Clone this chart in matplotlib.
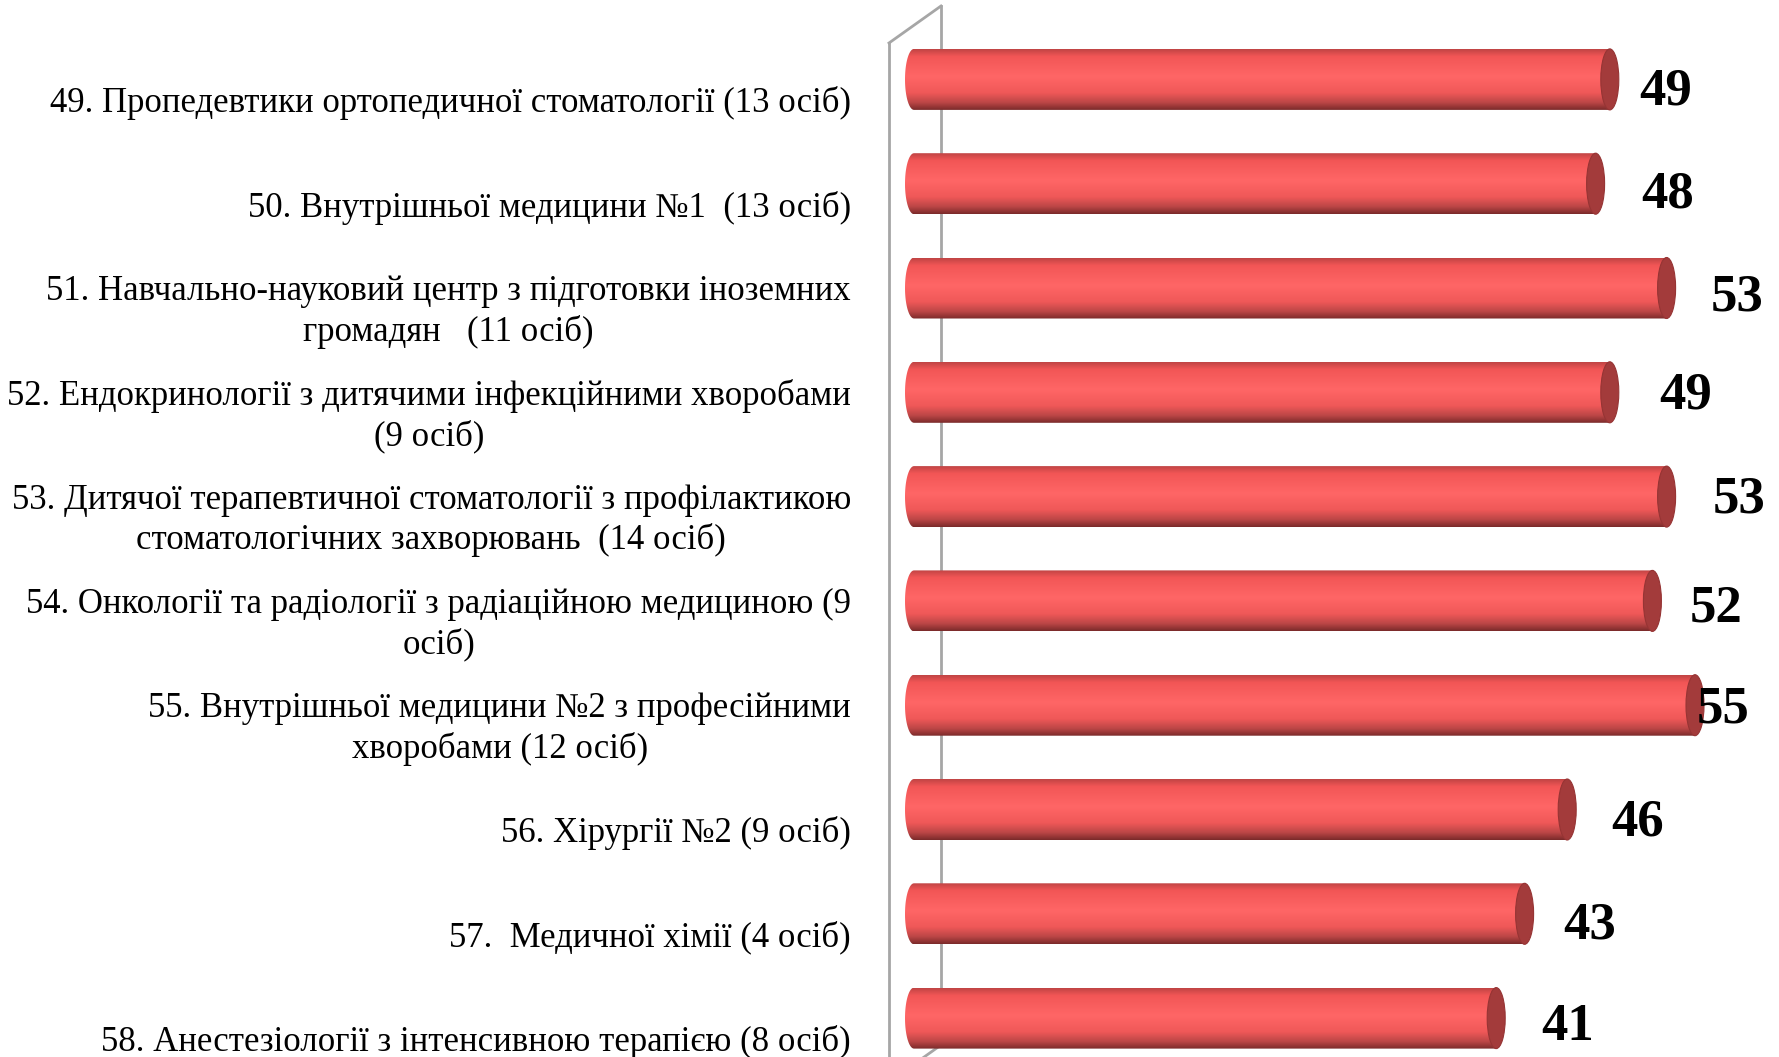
import matplotlib
matplotlib.use("Agg")
import matplotlib.pyplot as plt
import numpy as np
from matplotlib.path import Path
from matplotlib.patches import PathPatch, Ellipse
from matplotlib.colors import LinearSegmentedColormap

plt.rcParams['font.family'] = ['Liberation Serif', 'DejaVu Serif']

categories = [
    "49. Пропедевтики ортопедичної стоматології (13 осіб)",
    "50. Внутрішньої медицини №1  (13 осіб)",
    "51. Навчально-науковий центр з підготовки іноземних\nгромадян   (11 осіб)",
    "52. Ендокринології з дитячими інфекційними хворобами\n(9 осіб)",
    "53. Дитячої терапевтичної стоматології з профілактикою\nстоматологічних захворювань  (14 осіб)",
    "54. Онкології та радіології з радіаційною медициною (9\nосіб)",
    "55. Внутрішньої медицини №2 з професійними\nхворобами (12 осіб)",
    "56. Хірургії №2 (9 осіб)",
    "57.  Медичної хімії (4 осіб)",
    "58. Анестезіології з інтенсивною терапією (8 осіб)",
]
values = [49, 48, 53, 49, 53, 52, 55, 46, 43, 41]

# manual label nudges (pixels), as placed in the original
lbl_dx = [20, 37, 35, 40, 37, 28, -7, 35, 30, 36]
lbl_dy = [-12, -11, -9, -3, -3, -8, -4, -13, -12, -9]

W, H = 1779, 1057
px_per_unit = 14.2
x0_px = 914
row_px = 104.3
top_px = 79.4

fig = plt.figure(figsize=(W / 100, H / 100), dpi=100)
ax = fig.add_axes([0, 0, 1, 1])
ax.set_xlim(-x0_px / px_per_unit, (W - x0_px) / px_per_unit)
ylo = -top_px / row_px
ax.set_ylim(ylo + H / row_px, ylo)
ax.axis('off')

def px2x(p):
    return (p - x0_px) / px_per_unit

def px2y(p):
    return ylo + p / row_px

# 3D wall outline
wall = '#a6a6a6'
xb, xf = px2x(941), px2x(889)
ax.plot([xb, xb], [px2y(6), px2y(1045)], color=wall, lw=2, zorder=1)
ax.plot([xf, xf], [px2y(43), px2y(1060)], color=wall, lw=2, zorder=1)
ax.plot([xf, xb], [px2y(43), px2y(6)], color=wall, lw=2, zorder=1)
ax.plot([xb, xf], [px2y(1045), px2y(1082)], color=wall, lw=2, zorder=1)

h = 61 / row_px
a = 9 / px_per_unit
grad_cmap = LinearSegmentedColormap.from_list('cyl', [
    (0.0, '#c04444'), (0.12, '#f25656'), (0.45, '#ff6666'),
    (0.72, '#ef5858'), (0.88, '#bb4646'), (1.0, '#7a2a2a')])
grad = np.linspace(0, 1, 256).reshape(-1, 1)

bars = ax.barh(range(len(values)), values, height=h, color='none', zorder=2)
for i, (b, v) in enumerate(zip(bars, values)):
    yc = i
    top, bot = yc - h / 2, yc + h / 2
    # body with rounded (elliptic) back end on the left
    t = np.linspace(np.pi / 2, 3 * np.pi / 2, 40)
    arc = list(zip(a * np.cos(t), yc - (h / 2) * np.sin(t)))
    poly = np.array([(0, top), (v, top), (v, bot), (0, bot)] + arc + [(0, top)])
    patch = PathPatch(Path(poly), facecolor='none', edgecolor='none', zorder=2)
    ax.add_patch(patch)
    im = ax.imshow(grad, cmap=grad_cmap, aspect='auto', extent=[-a, v, bot, top],
                   origin='upper', zorder=3, interpolation='bilinear')
    im.set_clip_path(patch)
    cap = Ellipse((v, yc), 2 * a, h, facecolor='#a33b3b', edgecolor='#963434',
                  lw=0.8, zorder=4)
    ax.add_patch(cap)
    ax.annotate(str(v), (v + a, yc), xytext=(lbl_dx[i], lbl_dy[i]),
                textcoords='offset pixels', ha='left', va='center',
                fontsize=38, fontweight='bold', color='black', zorder=5)
    ax.text(px2x(851), yc + 0.23, categories[i], ha='right', va='center',
            multialignment='center', fontsize=25, linespacing=1.25, color='black')

fig.savefig('out.png', dpi=100)
